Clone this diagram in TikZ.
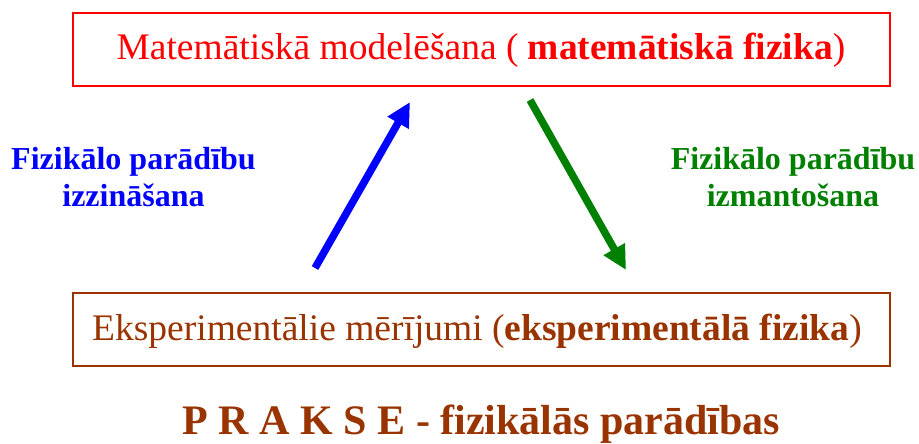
\documentclass[tikz,border=0pt]{standalone}
\usepackage{fontspec}
\setmainfont{Liberation Serif}
\usepackage{xcolor}
\usetikzlibrary{arrows.meta,positioning}
\definecolor{brick}{RGB}{153,51,0}
\definecolor{leaf}{RGB}{0,128,0}

\begin{document}
\begin{tikzpicture}[x=1pt, y=-1pt,
    box/.style={draw, line width=1.5pt, inner sep=0pt, anchor=center, minimum width=817pt},
    lbl/.style={font=\fontsize{32}{37}\selectfont\bfseries, align=center},
    arr/.style={line width=7.5pt, -{Triangle[length=24pt,width=23pt]}}]
  \useasboundingbox (0,0) rectangle (919,444);

  % upper box -- modelling
  \node[box, red, minimum height=73pt] (model) at (481.5,49.5) {};
  \node[red, anchor=base, font=\fontsize{37.5}{42}\selectfont] (modeltxt) at (481,60)
    {Matemātiskā modelēšana ( \textbf{matemātiskā fizika})};

  % lower box -- measurement
  \node[box, brick, minimum height=73pt] (meas) at (481.5,329.5) {};
  \node[brick, anchor=base, font=\fontsize{37.5}{42}\selectfont] (meastxt) at (477,340)
    {Eksperimentālie mērījumi (\textbf{eksperimentālā fizika})};

  % practice line
  \node[brick, anchor=base, inner sep=0pt, font=\fontsize{42}{48}\selectfont\bfseries] (prakse) at (481.5,434)
    {P R A K S E - fizikālās parādības};

  % side labels
  \node[lbl, blue] (cognise) at (133.5,177) {Fizikālo parādību\\izzināšana};
  \node[lbl, leaf] (apply) at (793,177) {Fizikālo parādību\\izmantošana};

  % arrows
  \coordinate (upfoot) at (315,268);
  \coordinate (uptip)  at (410,102);
  \coordinate (dnfoot) at (530,100);
  \coordinate (dntip)  at (626,270);
  \draw[arr, blue] (upfoot) -- (uptip);
  \draw[arr, leaf] (dnfoot) -- (dntip);
\end{tikzpicture}
\end{document}
